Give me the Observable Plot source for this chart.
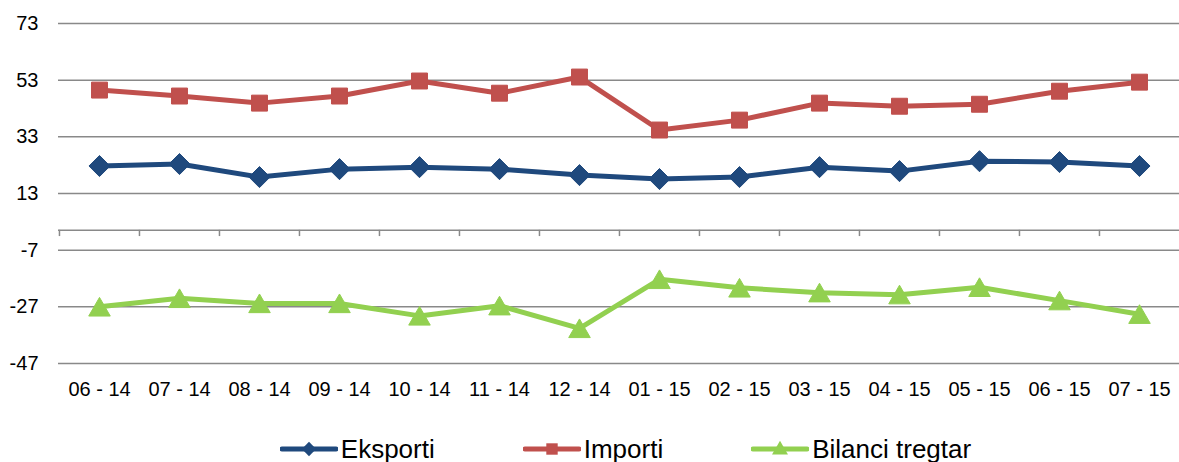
<!DOCTYPE html>
<html>
<head>
<meta charset="utf-8">
<script src="https://cdn.jsdelivr.net/npm/d3@7"></script>
<script src="https://cdn.jsdelivr.net/npm/@observablehq/plot@0.6"></script>
<style>
  html, body { margin: 0; padding: 0; background: #fff; }
  body { width: 1179px; height: 462px; overflow: hidden; font-family: "Liberation Sans", Arial, sans-serif; }
  #legend { display: flex; justify-content: center; align-items: center; padding-left: 72px; padding-top: 26px; height: 26px; font-size: 26px; line-height: 26px; color: #000; }
  .item { display: flex; align-items: center; }
  .item svg { display: block; }
  .gap { width: 88px; }
</style>
</head>
<body>
<div id="chart"></div>
<div id="legend"></div>
<script>
const months = ["06 - 14","07 - 14","08 - 14","09 - 14","10 - 14","11 - 14","12 - 14","01 - 15","02 - 15","03 - 15","04 - 15","05 - 15","06 - 15","07 - 15"];
const eksporti = [22.7, 23.4, 18.8, 21.6, 22.3, 21.6, 19.5, 18.1, 18.8, 22.3, 20.9, 24.4, 24.1, 22.7];
const importi = [49.5, 47.4, 44.9, 47.4, 52.7, 48.4, 54.1, 35.4, 38.9, 44.9, 43.8, 44.5, 49.1, 52.3];
const bilanci = [-27.0, -24.0, -25.8, -25.8, -30.2, -26.6, -34.6, -17.3, -20.3, -22.0, -22.7, -20.1, -24.8, -29.6];
const yTicks = [73, 53, 33, 13, -7, -27, -47];
const seriesNames = ["Eksporti", "Importi", "Bilanci tregtar"];
const colors = ["#1F497D", "#C0504D", "#92D050"];

const W = 1179, H = 410, ML = 58, MR = 0, MT = 23, MB = 47;
const step = (W - ML - MR) / months.length;

const rows = (vals) => months.map((m, i) => ({month: m, value: vals[i]}));
const eRows = rows(eksporti), iRows = rows(importi), bRows = rows(bilanci);

const chart = Plot.plot({
  width: W, height: H,
  marginLeft: ML, marginRight: MR, marginTop: MT, marginBottom: MB,
  style: {fontFamily: "Liberation Sans, Arial, sans-serif", fontSize: "20px", color: "#000", background: "#fff"},
  x: {type: "point", domain: months, padding: 0.5, label: null},
  y: {domain: [-47, 73], nice: false, label: null},
  marks: [
    Plot.ruleY(yTicks, {stroke: "#898989", strokeWidth: 1.5}),
    Plot.ruleY([0], {stroke: "#898989", strokeWidth: 1.5}),
    Plot.ruleX(months, {x: d => d, dx: -step / 2, y1: 0, y2: -2.2, stroke: "#898989", strokeWidth: 1.5}),
    Plot.axisY(yTicks, {tickSize: 0, tickPadding: 20, fontSize: 20, label: null, tickFormat: d => String(d)}),
    Plot.axisX({tickSize: 0, tickPadding: 18, fontSize: 20, label: null}),
    Plot.line(iRows, {x: "month", y: "value", stroke: colors[1], strokeWidth: 5}),
    Plot.line(eRows, {x: "month", y: "value", stroke: colors[0], strokeWidth: 5}),
    Plot.line(bRows, {x: "month", y: "value", stroke: colors[2], strokeWidth: 5}),
    Plot.dot(iRows, {x: "month", y: "value", symbol: "square", r: 9, fill: colors[1], stroke: colors[1], strokeWidth: 1}),
    Plot.dot(eRows, {x: "month", y: "value", symbol: "diamond2", r: 9.5, fill: colors[0], stroke: colors[0], strokeWidth: 1}),
    Plot.dot(bRows, {x: "month", y: "value", symbol: "triangle", r: 8, dy: 3, fill: colors[2], stroke: colors[2], strokeWidth: 1})
  ]
});
document.getElementById("chart").appendChild(chart);

// Legend
const symbols = [d3.symbolDiamond2, d3.symbolSquare, d3.symbolTriangle];
const symSizes = [130, 130, 110];
const legend = d3.select("#legend");
seriesNames.forEach((name, i) => {
  if (i > 0) legend.append("div").attr("class", "gap");
  const item = legend.append("div").attr("class", "item");
  const s = item.append("svg").attr("width", 58).attr("height", 26);
  s.append("line").attr("x1", 2).attr("x2", 56).attr("y1", 13).attr("y2", 13)
    .attr("stroke", colors[i]).attr("stroke-width", 5).attr("stroke-linecap", "round");
  s.append("path").attr("d", d3.symbol(symbols[i], symSizes[i])())
    .attr("transform", `translate(29,${i === 2 ? 14 : 13})`).attr("fill", colors[i]);
  item.append("span").style("margin-left", "3px").text(name);
});
</script>
</body>
</html>
